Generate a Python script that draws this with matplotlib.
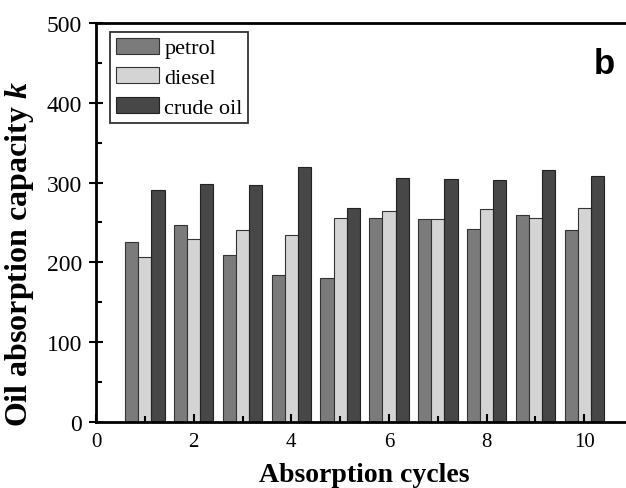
import numpy as np
import matplotlib
matplotlib.use("Agg")
import matplotlib.pyplot as plt
from matplotlib.ticker import MultipleLocator

# values
cycles = np.arange(1, 11)
petrol = [226, 247, 209, 184, 181, 255, 254, 242, 259, 240]
diesel = [207, 229, 241, 234, 255, 265, 254, 267, 255, 268]
crude_oil = [291, 298, 297, 319, 268, 306, 304, 303, 316, 308]

plt.rcParams["font.family"] = "Liberation Serif"
plt.rcParams["mathtext.fontset"] = "custom"
plt.rcParams["mathtext.it"] = "Liberation Serif:bold:italic"

fig = plt.figure(figsize=(6.26, 4.89), dpi=100)
ax = fig.add_axes([0.1534, 0.135, 0.858, 0.816])

w = 0.27
ax.bar(cycles - w, petrol, w, color="#7b7b7b", edgecolor="#333333", linewidth=0.8, label="petrol")
ax.bar(cycles, diesel, w, color="#d4d4d4", edgecolor="#333333", linewidth=0.8, label="diesel")
ax.bar(cycles + w, crude_oil, w, color="#474747", edgecolor="#222222", linewidth=0.8, label="crude oil")

ax.set_xlim(0, 11)
ax.set_ylim(0, 500)
ax.xaxis.set_major_locator(MultipleLocator(2))
ax.xaxis.set_minor_locator(MultipleLocator(1))
ax.yaxis.set_major_locator(MultipleLocator(100))
ax.yaxis.set_minor_locator(MultipleLocator(50))
ax.tick_params(which="both", direction="in", width=1.5)
ax.tick_params(axis="x", which="major", length=6, labelsize=15, pad=7)
ax.tick_params(axis="y", which="major", direction="inout", length=10, labelsize=17, pad=5)
ax.tick_params(which="minor", length=4)
for s in ax.spines.values():
    s.set_linewidth(2)

ax.set_xlabel("Absorption cycles", fontsize=20, fontweight="bold")
ax.xaxis.set_label_coords(0.5, -0.1)
ax.set_ylabel("Oil absorption capacity $k$", fontsize=23, fontweight="bold")
ax.yaxis.set_label_coords(-0.112, 0.422)

leg = ax.legend(loc="upper left", fontsize=16, frameon=True, fancybox=False,
                edgecolor="black", handlelength=1.95, handleheight=0.73,
                labelspacing=0.4, borderpad=0.25, handletextpad=0.25,
                borderaxespad=0, bbox_to_anchor=(0.026, 0.977))
leg.get_frame().set_linewidth(1.3)

fig.text(0.965, 0.869, "b", fontsize=25, fontweight="bold", family="Liberation Sans",
         ha="center", va="center")

plt.savefig("out.png", dpi=100)
plt.close()
